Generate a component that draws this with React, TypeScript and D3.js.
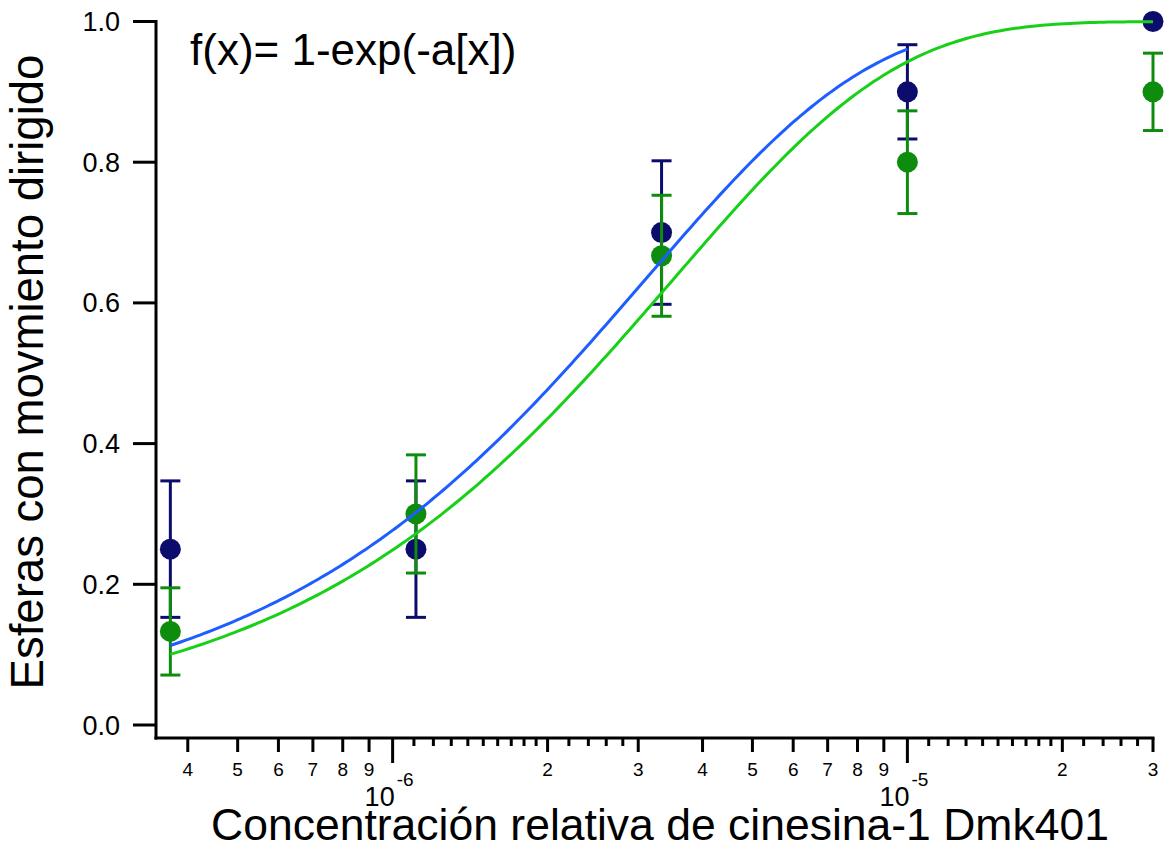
import React from "react";
import * as d3 from "d3";

// concentraciones (M), dilución 1:3
const concentraciones = [3.7e-7, 1.11e-6, 3.33e-6, 1.0e-5, 3.0e-5];

// serie azul oscuro
const valoresAzul = [0.25, 0.25, 0.7, 0.9, 1.0];
const errorAzul = [0.097, 0.097, 0.102, 0.067, 0];

// serie verde
const valoresVerde = [0.133, 0.3, 0.667, 0.8, 0.9];
const errorVerde = [0.062, 0.084, 0.086, 0.073, 0.055];

// ajustes f(x) = 1 - exp(-a x)
const ajusteAzulA = 3.24e5;
const ajusteVerdeA = 2.86e5;
const ajusteAzulRango = [3.7e-7, 1.0e-5];
const ajusteVerdeRango = [3.7e-7, 3.0e-5];

const yTicks = [0, 0.2, 0.4, 0.6, 0.8, 1.0];
const decadas = [1e-6, 1e-5];
const decadaExp = ["-6", "-5"];
const etiquetasMenores = [4, 5, 6, 7, 8, 9, 20, 30, 40, 50, 60, 70, 80, 90, 200, 300].map((m) => m * 1e-7);
const ticksChicos = [
  1.1, 1.2, 1.3, 1.4, 1.5, 1.6, 1.7, 1.8, 1.9, 2.2, 2.4, 2.6, 2.8,
].flatMap((m) => [m * 1e-6, m * 1e-5]);

const colorAzul = "#0c0c6c";
const colorVerde = "#0e8c0e";
const lineaAzul = "#1e5eff";
const lineaVerde = "#18d018";
const fuente = "'Liberation Sans', Arial, Helvetica, sans-serif";

const W = 1164;
const H = 849;

const App = () => {
  const x = d3.scaleLog().domain([3.47e-7, 3.0e-5]).range([156, 1153]);
  const y = d3.scaleLinear().domain([0, 1]).range([725, 21.5]);
  const ejeY = 738;

  const curva = (a: number, rango: number[]) => {
    const xs = d3.range(0, 201).map((i) => {
      const l0 = Math.log10(rango[0]);
      const l1 = Math.log10(rango[1]);
      return Math.pow(10, l0 + ((l1 - l0) * i) / 200);
    });
    const linea = d3
      .line<number>()
      .x((d) => x(d))
      .y((d) => y(1 - Math.exp(-a * d)));
    return linea(xs) || "";
  };

  const serie = (vals: number[], errs: number[], color: string) => (
    <g>
      {vals.map((v, i) => {
        const cx = x(concentraciones[i]);
        const e = errs[i];
        return (
          <g key={i}>
            {e > 0 && (
              <g stroke={color} strokeWidth={3}>
                <line x1={cx} x2={cx} y1={y(v + e)} y2={y(v - e)} />
                <line x1={cx - 10} x2={cx + 10} y1={y(v + e)} y2={y(v + e)} />
                <line x1={cx - 10} x2={cx + 10} y1={y(v - e)} y2={y(v - e)} />
              </g>
            )}
            <circle cx={cx} cy={y(v)} r={10.5} fill={color} />
          </g>
        );
      })}
    </g>
  );

  return (
    <svg
      width={W}
      height={H}
      style={{ position: "absolute", left: 0, top: 0, background: "#fff" }}
      fontFamily={fuente}
    >
      {/* ejes */}
      <g stroke="#000" strokeWidth={3} fill="none">
        <line x1={156} x2={156} y1={y(1) - 1.5} y2={ejeY + 1.5} />
        <line x1={154.5} x2={1154.5} y1={ejeY} y2={ejeY} />
        {yTicks.map((t) => (
          <line key={t} x1={133} x2={156} y1={y(t)} y2={y(t)} />
        ))}
        {decadas.map((d) => (
          <line key={d} x1={x(d)} x2={x(d)} y1={ejeY} y2={ejeY + 25} />
        ))}
        {etiquetasMenores.map((d) => (
          <line key={d} x1={x(d)} x2={x(d)} y1={ejeY} y2={ejeY + 14} />
        ))}
        {ticksChicos.map((d) => (
          <line key={d} x1={x(d)} x2={x(d)} y1={ejeY} y2={ejeY + 8} />
        ))}
      </g>

      {/* etiquetas eje y */}
      {yTicks.map((t) => (
        <text key={t} x={120} y={y(t) + 9.5} fontSize={27} textAnchor="end">
          {t.toFixed(1)}
        </text>
      ))}

      {/* etiquetas eje x */}
      {etiquetasMenores.map((d) => (
        <text key={d} x={x(d)} y={776} fontSize={19} textAnchor="middle">
          {Math.round(d / Math.pow(10, Math.floor(Math.log10(d) + 1e-9)))}
        </text>
      ))}
      {decadas.map((d, i) => (
        <text key={d} x={x(d) - 28} y={806} fontSize={27}>
          <tspan>10</tspan>
          <tspan dy={-20} dx={2} fontSize={19}>
            {decadaExp[i]}
          </tspan>
        </text>
      ))}

      {/* datos */}
      {serie(valoresAzul, errorAzul, colorAzul)}
      {serie(valoresVerde, errorVerde, colorVerde)}

      {/* ajustes */}
      <path d={curva(ajusteAzulA, ajusteAzulRango)} fill="none" stroke={lineaAzul} strokeWidth={3} />
      <path d={curva(ajusteVerdeA, ajusteVerdeRango)} fill="none" stroke={lineaVerde} strokeWidth={3} />

      {/* textos */}
      <text x={190} y={65} fontSize={44}>
        f(x)= 1-exp(-a[x])
      </text>
      <text x={660} y={840} fontSize={44.5} textAnchor="middle">
        Concentración relativa de cinesina-1 Dmk401
      </text>
      <text
        transform={`translate(43, 372) rotate(-90)`}
        fontSize={45.5}
        textAnchor="middle"
      >
        Esferas con movmiento dirigido
      </text>
    </svg>
  );
};

export default App;
